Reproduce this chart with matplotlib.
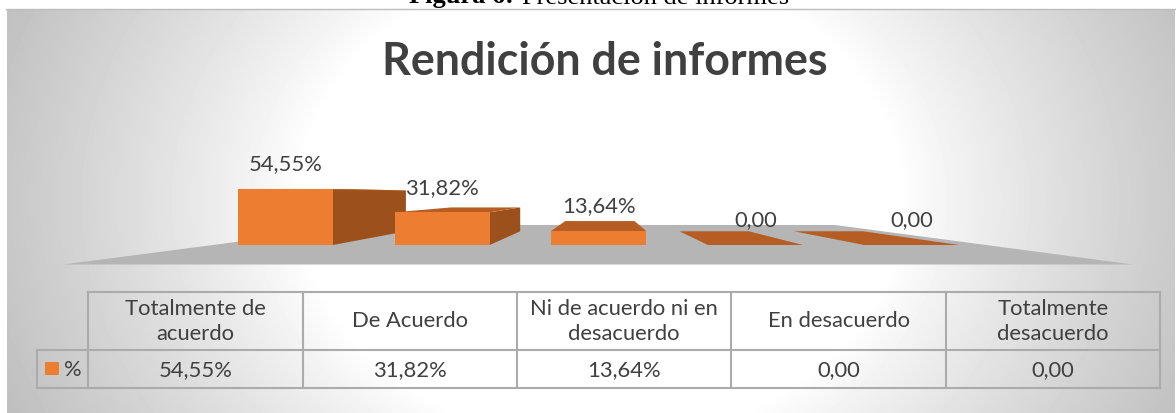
import numpy as np
import matplotlib
matplotlib.use("Agg")
import matplotlib.pyplot as plt
from matplotlib.patches import Polygon, Rectangle

categories = ["Totalmente de\nacuerdo", "De Acuerdo", "Ni de acuerdo ni en\ndesacuerdo",
              "En desacuerdo", "Totalmente\ndesacuerdo"]
values = [54.55, 31.82, 13.64, 0.0, 0.0]
value_labels = ["54,55%", "31,82%", "13,64%", "0,00", "0,00"]
series_name = "%"

W, H = 1176, 413
FRONT = "#ED7D31"
SIDE = "#9C501C"
TOP = "#B55D22"
FLOOR = "#B5B5B5"
TEXT = "#404040"
GRID = "#ABABAB"
FS = 15.8

# 3D look: back points are front points pulled towards a vanishing point
VP = (603.0, 194.2)
DEPTH = 0.73
BASE_Y = 245.0
PX_PER_PCT = 1.027
SLOT_X = 238.0
SLOT_W = 156.6
BAR_W = 95.0


def back(x, y, k=DEPTH):
    return (VP[0] + k * (x - VP[0]), VP[1] + k * (y - VP[1]))


fig = plt.figure(figsize=(W / 100, H / 100), dpi=100)
ax = fig.add_axes([0, 0, 1, 1])

# chart area background, white centre fading to grey
xx, yy = np.meshgrid(np.arange(W), np.arange(H))
r = np.sqrt(((xx - 600) / 300.0) ** 2 + ((yy - 200) / 240.0) ** 2)
grey = 1 - (64 / 255) * (np.clip(r - 1, 0, None) / 1.15) ** 0.88
ax.imshow(grey[9:, 7:1175], cmap="gray", vmin=0, vmax=1, extent=(7, 1175, H, 9),
          aspect="auto", zorder=0)
ax.set_xlim(0, W)
ax.set_ylim(H, 0)
ax.axis("off")
ax.plot([6, 1175], [8.5, 8.5], color="#BDBDBD", lw=1.0, zorder=1)

# caption is cut by the top of the page, same as in the source document
ax.text(409, 3.5, "Figura 6:", family="Liberation Serif", fontweight="bold",
        fontsize=19, color="black", ha="left", va="baseline", zorder=2)
ax.text(522, 3.5, "Presentación de informes", family="Liberation Serif",
        fontsize=19, color="black", ha="left", va="baseline", zorder=2)

ax.text(604.5, 62, "Rendición de informes", family="Lato", fontweight="bold",
        fontsize=32.2, color=TEXT, ha="center", va="center", zorder=2)

# floor
floor_front = 264.5
floor_k = 0.438
ax.add_patch(Polygon([(63, floor_front), (1133, floor_front),
                      back(1133, floor_front, floor_k), back(63, floor_front, floor_k)],
                     closed=True, fc=FLOOR, ec="none", zorder=3))

# bars
for i, v in enumerate(values):
    x0 = SLOT_X + i * SLOT_W
    x1 = x0 + BAR_W
    top_y = BASE_Y - v * PX_PER_PCT
    z = 4 + i
    if v > 0:
        if x1 < VP[0]:
            ax.add_patch(Polygon([(x1, BASE_Y), (x1, top_y), back(x1, top_y), back(x1, BASE_Y)],
                                 closed=True, fc=SIDE, ec="none", zorder=z))
        elif x0 > VP[0]:
            ax.add_patch(Polygon([(x0, BASE_Y), (x0, top_y), back(x0, top_y), back(x0, BASE_Y)],
                                 closed=True, fc=SIDE, ec="none", zorder=z))
    ax.add_patch(Polygon([(x0, top_y), (x1, top_y), back(x1, top_y), back(x0, top_y)],
                         closed=True, fc=TOP, ec="none", zorder=z))
    if v > 0:
        ax.add_patch(Rectangle((x0, top_y), BAR_W, BASE_Y - top_y, fc=FRONT, ec="none", zorder=z))
    ax.text(x0 + BAR_W / 2, top_y - 24.5, value_labels[i], family="Lato", fontsize=FS,
            color=TEXT, ha="center", va="center", zorder=12)

# data table
col_x = [88.4, 302.7, 517.0, 731.3, 945.7, 1160.0]
row_y = [291.7, 350.0, 388.3]
legend_x = 37.0
lw = 1.5
for x in col_x:
    ax.plot([x, x], [row_y[0], row_y[2]], color=GRID, lw=lw, zorder=3, solid_capstyle="projecting")
ax.plot([legend_x, legend_x], [row_y[1], row_y[2]], color=GRID, lw=lw, zorder=3)
ax.plot([col_x[0], col_x[-1]], [row_y[0], row_y[0]], color=GRID, lw=lw, zorder=3)
for y in row_y[1:]:
    ax.plot([legend_x, col_x[-1]], [y, y], color=GRID, lw=lw, zorder=3)

for i, cat in enumerate(categories):
    cx = (col_x[i] + col_x[i + 1]) / 2
    ax.text(cx, (row_y[0] + row_y[1]) / 2 + 0.5, cat, family="Lato", fontsize=FS, color=TEXT,
            ha="center", va="center", linespacing=1.27, zorder=4)
    ax.text(cx, (row_y[1] + row_y[2]) / 2 + 1, value_labels[i], family="Lato", fontsize=FS,
            color=TEXT, ha="center", va="center", zorder=4)

ax.add_patch(Rectangle((45, 362), 14, 13, fc=FRONT, ec="none", zorder=4))
ax.text(73, (row_y[1] + row_y[2]) / 2 + 1, series_name, family="Lato", fontsize=FS, color=TEXT,
        ha="center", va="center", zorder=4)

fig.savefig("out.png", dpi=100)
